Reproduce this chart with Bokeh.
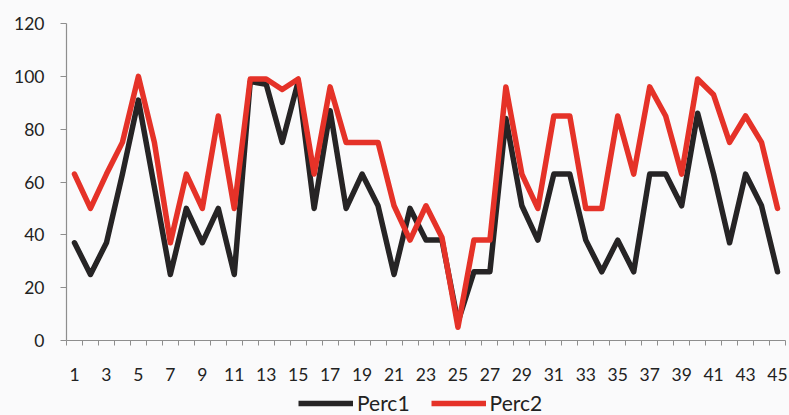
from bokeh.plotting import figure
from bokeh.layouts import column
from bokeh.models import (Range1d, FixedTicker, Legend, LegendItem,
                          ColumnDataSource)
from bokeh.embed import file_html
from bokeh.resources import INLINE

# Item numbers along the horizontal axis
items = list(range(1, 46))

# Percentile scores for each item
perc1 = [37, 25, 37, 63, 91, 58, 25, 50, 37, 50,
         25, 98, 97, 75, 98, 50, 87, 50, 63, 51,
         25, 50, 38, 38, 7, 26, 26, 84, 51, 38,
         63, 63, 38, 26, 38, 26, 63, 63, 51, 86,
         63, 37, 63, 51, 26]
perc2 = [63, 50, 63, 75, 100, 75, 37, 63, 50, 85,
         50, 99, 99, 95, 99, 63, 96, 75, 75, 75,
         51, 38, 51, 39, 5, 38, 38, 96, 63, 50,
         85, 85, 50, 50, 85, 63, 96, 85, 63, 99,
         93, 75, 85, 75, 50]

series_names = ["Perc1", "Perc2"]
series_colors = ["#262425", "#e53228"]

y_ticks = [0, 20, 40, 60, 80, 100, 120]
x_label_ticks = [i for i in items if i % 2 == 1]
x_boundaries = [i - 0.5 for i in items] + [items[-1] + 0.5]

FONT = "Lato"
BG = "#fafafb"
LINE_W = 5.5

src = ColumnDataSource(dict(x=items, p1=perc1, p2=perc2))

# ---- main chart -------------------------------------------------------
p = figure(width=789, height=390, output_backend="svg", toolbar_location=None,
           x_range=Range1d(0.5, 45.5), y_range=Range1d(0, 120),
           min_border_left=66, min_border_right=4, min_border_top=23,
           min_border_bottom=50)
p.background_fill_color = BG
p.border_fill_color = BG
p.outline_line_color = None
p.xgrid.visible = False
p.ygrid.visible = False

for col, color in zip(["p1", "p2"], series_colors):
    p.line("x", col, source=src, line_color=color, line_width=LINE_W,
           line_join="round", line_cap="round")

# Vertical axis
ya = p.yaxis[0]
ya.ticker = FixedTicker(ticks=y_ticks)
ya.axis_line_color = "#8e8e8e"
ya.axis_line_width = 1.2
ya.major_tick_line_color = "#8e8e8e"
ya.major_tick_out = 6
ya.major_tick_in = 0
ya.minor_tick_line_color = None
ya.major_label_text_font = FONT
ya.major_label_text_font_size = "17.5px"
ya.major_label_text_color = "#222222"
ya.major_label_standoff = 16

# Horizontal axis: labels on odd items, ticks between categories
xa = p.xaxis[0]
xa.ticker = FixedTicker(ticks=x_label_ticks, minor_ticks=x_boundaries)
xa.axis_line_color = "#8e8e8e"
xa.axis_line_width = 1.2
xa.major_tick_out = 0
xa.major_tick_in = 0
xa.minor_tick_line_color = "#8e8e8e"
xa.minor_tick_out = 5
xa.minor_tick_in = 0
xa.major_label_text_font = FONT
xa.major_label_text_font_size = "17.5px"
xa.major_label_text_color = "#222222"
xa.major_label_standoff = 22

# ---- legend strip under the chart --------------------------------------
lg = figure(width=789, height=25, output_backend="svg", toolbar_location=None,
            x_axis_location=None, y_axis_location=None,
            x_range=Range1d(0, 1), y_range=Range1d(0, 1),
            min_border_left=0, min_border_right=0, min_border_top=0,
            min_border_bottom=0)
lg.background_fill_color = BG
lg.border_fill_color = BG
lg.outline_line_color = None
lg.xgrid.visible = False
lg.ygrid.visible = False

key_renderers = []
for col, color in zip(["p1", "p2"], series_colors):
    r = lg.line("x", col, source=src, line_color=color, line_width=LINE_W,
                visible=False)
    key_renderers.append(r)

# the strip's frame is aligned with the chart frame, so offsets are from x=66
legend = Legend(items=[LegendItem(label=n, renderers=[r])
                       for n, r in zip(series_names, key_renderers)],
                orientation="horizontal", location=(232, 0),
                label_text_font=FONT, label_text_font_size="21px",
                label_text_color="#222222",
                glyph_width=55, glyph_height=20, label_standoff=4,
                spacing=21, padding=0, margin=0,
                inactive_fill_alpha=0,
                border_line_color=None, background_fill_alpha=0)
lg.add_layout(legend, "center")

layout = column(p, lg, spacing=0, background=BG)

open("out.html", "w").write(file_html(layout, INLINE))
